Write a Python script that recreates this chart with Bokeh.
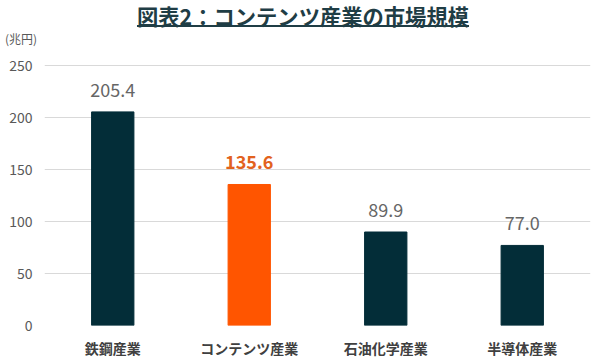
from bokeh.plotting import figure
from bokeh.models import ColumnDataSource, FactorRange, FixedTicker, Div, Range1d, Spacer
from bokeh.layouts import column, row
from bokeh.core.properties import value
from bokeh.embed import file_html
from bokeh.resources import INLINE

categories = ["鉄鋼産業", "コンテンツ産業", "石油化学産業", "半導体産業"]
values = [205.4, 135.6, 89.9, 77.0]
labels = ["205.4", "135.6", "89.9", "77.0"]
bar_colors = ["#032d38", "#ff5500", "#032d38", "#032d38"]
label_colors = ["#666666", "#e2621e", "#666666", "#666666"]
label_styles = ["normal", "bold", "normal", "normal"]
y_ticks = [0, 50, 100, 150, 200, 250]
title_text = "図表2：コンテンツ産業の市場規模"
unit_text = "(兆円)"

FONT = "Noto Sans CJK JP"
TITLE_COLOR = "#1f3d45"

header = Div(width=584, height=44, text=f"""
<div style="position:relative;width:584px;height:44px;font-family:'{FONT}';">
  <div style="position:absolute;left:0;top:0;width:596px;text-align:center;
              font-size:21.3px;font-weight:bold;color:{TITLE_COLOR};line-height:21px;
              text-decoration:underline;text-decoration-thickness:2px;
              text-underline-offset:0px;">{title_text}</div>
  <div style="position:absolute;left:0;top:28px;font-size:12px;color:#595959;
              line-height:12px;white-space:nowrap;">{unit_text}</div>
</div>""")

src = ColumnDataSource(dict(cat=categories, val=values, lab=labels,
                            color=bar_colors, lcolor=label_colors, lstyle=label_styles))

p = figure(frame_width=546, frame_height=271, output_backend="svg", toolbar_location=None,
           x_range=FactorRange(*categories), y_range=Range1d(0, 260.6),
           min_border_left=30, min_border_right=2, min_border_top=0, min_border_bottom=0)

p.vbar(x="cat", top="val", width=0.31, color="color", source=src)
p.text(x="cat", y="val", text="lab", text_color="lcolor", text_font_style="lstyle",
       text_font=value(FONT), text_font_size="18px", text_align="center",
       text_baseline="bottom", y_offset=-15, source=src)

p.yaxis.ticker = FixedTicker(ticks=y_ticks)
p.ygrid.ticker = FixedTicker(ticks=y_ticks)
p.ygrid.grid_line_color = "#d9d9d9"
p.xgrid.grid_line_color = None
p.outline_line_color = None
p.axis.axis_line_color = None
p.axis.major_tick_line_color = None
p.axis.minor_tick_line_color = None
p.axis.major_tick_out = 0
p.axis.major_tick_in = 0
p.yaxis.major_label_text_font = FONT
p.yaxis.major_label_text_font_size = "14px"
p.yaxis.major_label_text_color = "#595959"
p.yaxis.major_label_standoff = 12
p.xaxis.major_label_text_font = FONT
p.xaxis.major_label_text_font_size = "14px"
p.xaxis.major_label_text_font_style = "bold"
p.xaxis.major_label_text_color = "#404040"
p.xaxis.major_label_standoff = 12
p.xaxis.major_label_text_line_height = 0.7

layout = column(header, row(Spacer(width=6), p, spacing=0), spacing=0)
open("out.html", "w").write(file_html(layout, INLINE))
